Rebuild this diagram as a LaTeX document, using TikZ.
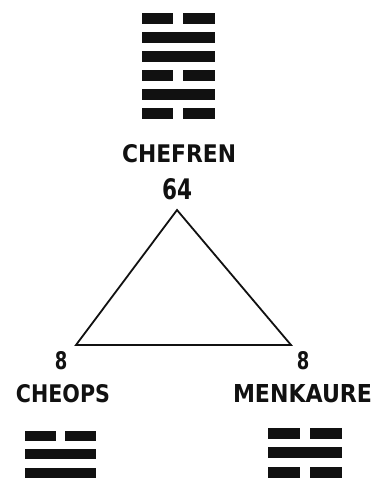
\documentclass[tikz,border=0pt]{standalone}
\usepackage{fontspec}
\setmainfont{DejaVu Sans Condensed}
\usepackage{graphicx}
\definecolor{ink}{HTML}{111111}
\tikzset{
  lbl/.style={inner sep=0pt, outer sep=0pt, text=ink, anchor=center},
  bar/.style={fill=ink, draw=ink, line width=0.6pt},
  tri/.style={draw=ink, line width=1.8pt, line join=miter}
}
\newcommand{\fitbox}[3]{\resizebox{#1pt}{#2pt}{\bfseries #3}}
\begin{document}
\begin{tikzpicture}[x=1pt,y=-1pt]
\useasboundingbox (0,0) rectangle (373,478);
% top hexagram (from top): broken, solid, solid, broken, solid, broken
\foreach \yy/\kind in {13/b,32/s,51/s,70/b,89/s,108/b}{
  \if\kind s
    \filldraw[bar] (142,\yy) rectangle (214,\yy+10);
  \else
    \filldraw[bar] (142,\yy) rectangle (172.5,\yy+10);
    \filldraw[bar] (183,\yy) rectangle (214,\yy+10);
  \fi
}
% labels
\node[lbl] (chefren) at (179,154) {\fitbox{114}{18}{CHEFREN}};
\node[lbl] (n64) at (177,189) {\fitbox{30}{21}{64}};
\node[lbl] (n8l) at (61,361) {\fitbox{12.5}{18}{8}};
\node[lbl] (cheops) at (63,394) {\fitbox{94}{18}{CHEOPS}};
\node[lbl] (n8r) at (303,361) {\fitbox{12.5}{18}{8}};
\node[lbl] (menkaure) at (302.5,394) {\fitbox{139}{18}{MENKAURE}};
% triangle
\coordinate (apex) at (177,210);
\coordinate (bl) at (76,345);
\coordinate (br) at (291,345);
\draw[tri] (apex) -- (bl) -- (br) -- cycle;
% bottom-left trigram: broken, solid, solid
\filldraw[bar] (25,431) rectangle (55,440);
\filldraw[bar] (65,431) rectangle (95,440);
\filldraw[bar] (25,449) rectangle (95,458.5);
\filldraw[bar] (25,468) rectangle (95,478);
% bottom-right trigram: broken, solid, broken
\filldraw[bar] (268,428) rectangle (299,438);
\filldraw[bar] (310,428) rectangle (341,438);
\filldraw[bar] (268,447) rectangle (341,457);
\filldraw[bar] (268,467) rectangle (299,477);
\filldraw[bar] (310,467) rectangle (341,477);
\end{tikzpicture}
\end{document}
